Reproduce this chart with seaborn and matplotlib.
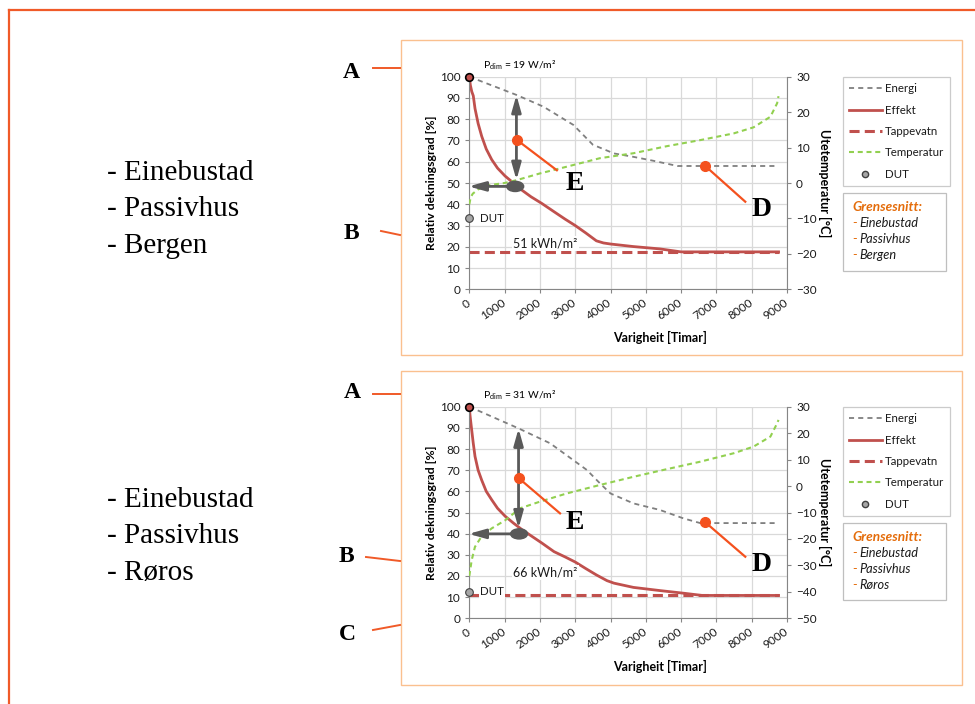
import matplotlib
matplotlib.use('Agg')
import matplotlib.pyplot as plt
import pandas as pd
import seaborn as sns
from matplotlib.lines import Line2D
from matplotlib.patches import Ellipse, Rectangle


# Øvre diagram: Einebustad / Passivhus / Bergen
BERGEN_ENERGI_T = [0, 1340, 2100, 2950, 3500, 4100, 4650, 5200, 5900, 8760]
BERGEN_ENERGI = [100, 91.4, 85.9, 77.3, 68, 63.9, 62.3, 60.5, 58, 58]
BERGEN_EFFEKT_T = [0, 30, 70, 113, 162, 250, 351, 480, 635, 800, 1012, 1250, 1485,
                   1750, 2053, 2400, 2714, 3000, 3300, 3600, 3800, 4000, 4650, 5400,
                   6000, 8760]
BERGEN_EFFEKT = [100, 96, 93, 91, 85, 78, 72, 66, 61, 57, 53.3, 50, 46.7,
                 43.5, 40.4, 36.5, 33, 30, 26.5, 22.8, 21.8, 21.3, 20.1, 19,
                 17.6, 17.6]
BERGEN_TAPPEVATN = [17.6, 17.6]
BERGEN_TEMP_T = [0, 40, 100, 250, 500, 1000, 1340, 2000, 2760, 3700, 4650,
                 5600, 6540, 7490, 8050, 8530, 8720, 8760]
BERGEN_TEMP = [-6, -4, -3, -1.8, -0.7, 0, 0.8, 2.7, 4.6, 7, 8.4,
               10.4, 12.1, 14, 15.7, 18.7, 22.5, 24.5]
BERGEN_DUT = -10
BERGEN_PDIM = 19
BERGEN_KWH = 51

# Nedre diagram: Einebustad / Passivhus / Røros
ROROS_ENERGI_T = [0, 1390, 2290, 3330, 3700, 4000, 4650, 5400, 6070, 6540, 8760]
ROROS_ENERGI = [100, 89.8, 82.7, 70.1, 63.8, 59, 54.3, 51.2, 47.2, 45, 45]
ROROS_EFFEKT_T = [0, 20, 40, 68, 110, 162, 250, 351, 480, 635, 800, 1012, 1250,
                  1485, 1750, 2053, 2400, 2714, 3000, 3300, 3600, 3900, 4100, 4650,
                  5400, 6100, 6600, 8760]
ROROS_EFFEKT = [100, 96, 93, 89, 83, 76.5, 70, 65.3, 60, 56, 52, 48.3, 45,
                42, 39, 35.6, 31.5, 29, 26.6, 23.5, 20.5, 17.8, 16.6, 14.6,
                13.1, 11.8, 10.8, 10.8]
ROROS_TAPPEVATN = [10.8, 10.8]
ROROS_TEMP_T = [0, 68, 160, 350, 635, 1010, 1440, 2000, 2760, 3700, 4650,
                5600, 6540, 7490, 8050, 8530, 8720, 8760]
ROROS_TEMP = [-34, -28, -23, -19, -16, -13, -8.4, -5.9, -2.8, 0.4, 3.5,
              6.4, 9.2, 12.4, 14.9, 18.7, 23.7, 25]
ROROS_DUT = -40
ROROS_PDIM = 31
ROROS_KWH = 66

TAPPEVATN_T = [0, 8760]
LEGEND_LABELS = ['Energi', 'Effekt', 'Tappevatn', 'Temperatur', 'DUT']
GRENSESNITT = [['Einebustad', 'Passivhus', 'Bergen'],
               ['Einebustad', 'Passivhus', 'Røros']]

# markeringar (timar, %)
BERGEN_MARK = dict(ellipse=(1300, 48.4), arrow_x=1335, arrow_top=91.4, arrow_bot=51.4,
                   e_dot=(1345, 70.3), e_end=(2480, 56.0), e_txt=(2980, 49.8),
                   d_dot=(6684, 58.0), d_end=(7818, 41.2), d_txt=(8280, 37.5),
                   dut_txt=(300, 33.4), kwh_txt=(2146, 21.6))
ROROS_MARK = dict(ellipse=(1410, 39.9), arrow_x=1395, arrow_top=89.7, arrow_bot=42.5,
                  e_dot=(1410, 66.1), e_end=(2570, 49.6), e_txt=(2997, 45.2),
                  d_dot=(6684, 45.4), d_end=(7818, 29.1), d_txt=(8272, 25.2),
                  dut_txt=(300, 12.6), kwh_txt=(2146, 21.5))

W, H = 975, 704
RED = '#c0504d'
GREY = '#7f7f7f'
GREEN = '#92d050'
ORANGE = '#f4511e'
FRAME = '#f05a28'
PEACH = '#fac08f'
DARK = '#595959'
SANS = ['Lato', 'DejaVu Sans']
SERIF = ['Liberation Serif', 'DejaVu Serif']

plt.rcParams['font.family'] = SANS
plt.rcParams['mathtext.fontset'] = 'custom'
plt.rcParams['mathtext.rm'] = 'Lato'

STYLE = {
    'energi': dict(color=GREY, lw=1.3, linestyle=(0, (2.8, 2.3))),
    'effekt': dict(color=RED, lw=2.0),
    'tappevatn': dict(color=RED, lw=2.2, linestyle=(0, (3.3, 1.7))),
    'temp': dict(color=GREEN, lw=1.5, linestyle=(0, (2.4, 1.8))),
}


def fx(x):
    return x / W


def fy(y):
    return 1 - y / H


def draw_chart(fig, top, bottom, temp_min, s, mark):
    ax = fig.add_axes([fx(469.3), fy(bottom), (787 - 469.3) / W, (bottom - top) / H])
    energi = pd.DataFrame({'t': s['energi_t'], 'v': s['energi']})
    effekt = pd.DataFrame({'t': s['effekt_t'], 'v': s['effekt']})
    tapp = pd.DataFrame({'t': TAPPEVATN_T, 'v': s['tappevatn']})
    temp = pd.DataFrame({'t': s['temp_t'], 'v': s['temp']})

    sns.lineplot(data=energi, x='t', y='v', ax=ax, estimator=None, sort=False, **STYLE['energi'])
    sns.lineplot(data=tapp, x='t', y='v', ax=ax, estimator=None, sort=False, **STYLE['tappevatn'])
    sns.lineplot(data=effekt, x='t', y='v', ax=ax, estimator=None, sort=False, **STYLE['effekt'])

    ax.set_xlim(0, 9000)
    ax.set_ylim(0, 100)
    ax.set_xticks(range(0, 9001, 1000))
    ax.set_yticks(range(0, 101, 10))
    ax.grid(True, color='#d9d9d9', lw=0.9)
    ax.set_axisbelow(True)
    for side in ['top', 'right']:
        ax.spines[side].set_visible(False)
    for side in ['left', 'bottom']:
        ax.spines[side].set_color('#868686')
    ax.tick_params(labelsize=8.5, length=3, color='#868686', labelcolor='#1a1a1a')
    plt.setp(ax.get_xticklabels(), rotation=35, ha='right', va='center',
             rotation_mode='anchor')
    ax.tick_params(axis='x', pad=6)
    ax.set_xlabel('')
    ax.set_ylabel('Relativ dekningsgrad [%]', fontsize=8.8, fontweight='bold', labelpad=2)
    ax.text(0.6, -0.226, 'Varigheit [Timar]', transform=ax.transAxes, ha='center',
            va='center', fontsize=9, fontweight='bold')
    ax.text(0.043, 1.055, r'P$_{\mathrm{dim}}$ = %d W/m²' % s['pdim'], transform=ax.transAxes,
            ha='left', va='center', fontsize=7.5)

    ax2 = ax.twinx()
    sns.lineplot(data=temp, x='t', y='v', ax=ax2, estimator=None, sort=False, **STYLE['temp'])
    ax2.set_ylim(temp_min, 30)
    ax2.set_yticks(range(temp_min, 31, 10))
    for side in ['top', 'left', 'bottom']:
        ax2.spines[side].set_visible(False)
    ax2.spines['right'].set_color('#868686')
    ax2.tick_params(labelsize=8.5, length=3, color='#868686', labelcolor='#1a1a1a')
    ax2.set_xlabel('')
    ax2.set_ylabel('')
    ax2.text(1.119, 0.5, 'Utetemperatur [°C]', transform=ax2.transAxes, rotation=-90,
             ha='center', va='center', fontsize=9, fontweight='bold')

    tr = ax.transData
    # startpunkt effekt og DUT
    ax2.plot([0], [100], transform=tr, marker='o', ms=5.5, mfc=RED, mec='black',
             mew=1.2, clip_on=False)
    ax2.plot([0], [s['dut']], marker='o', ms=5.5, mfc='#a6a6a6', mec='#404040',
             mew=0.8, clip_on=False)
    ax2.text(*mark['dut_txt'], 'DUT', transform=tr, ha='left', va='center', fontsize=8.3,
             color='#1a1a1a', bbox=dict(fc='white', ec='none', pad=1))
    ax2.text(*mark['kwh_txt'], '%d kWh/m²' % s['kwh'], transform=tr, ha='center',
             va='center', fontsize=9, color='#1a1a1a', bbox=dict(fc='white', ec='none', pad=1))

    # piler
    arrow = dict(arrowstyle='<|-|>,head_length=1.0,head_width=0.28', color=DARK, lw=2,
                 shrinkA=0, shrinkB=0)
    ax2.annotate('', xy=(mark['arrow_x'], mark['arrow_top']),
                 xytext=(mark['arrow_x'], mark['arrow_bot']),
                 xycoords=tr, textcoords=tr, arrowprops=arrow, annotation_clip=False)
    arrow1 = dict(arrow, arrowstyle='-|>,head_length=1.0,head_width=0.28')
    ey = mark['ellipse'][1]
    ax2.annotate('', xy=(-20, ey), xytext=mark['ellipse'], xycoords=tr, textcoords=tr,
                 arrowprops=arrow1, annotation_clip=False)
    ax2.add_patch(Ellipse(mark['ellipse'], 480, 4.8, transform=tr, color=DARK, zorder=5))

    # E og D
    for dot, end, txt, letter in [(mark['e_dot'], mark['e_end'], mark['e_txt'], 'E'),
                                  (mark['d_dot'], mark['d_end'], mark['d_txt'], 'D')]:
        ax2.plot([dot[0], end[0]], [dot[1], end[1]], transform=tr, color=ORANGE, lw=1.6,
                 marker='o', ms=7, markevery=[0], zorder=6)
        ax2.text(*txt, letter, transform=tr, ha='center', va='center', fontsize=20,
                 fontweight='bold', family=SERIF, color='black')
    return ax


def draw_legend(fig, top, gtop, gbot, places):
    handles = [Line2D([], [], **STYLE['energi']),
               Line2D([], [], **STYLE['effekt']),
               Line2D([], [], **STYLE['tappevatn']),
               Line2D([], [], **STYLE['temp']),
               Line2D([], [], ls='none', marker='o', ms=4.5, mfc='#a6a6a6', mec='#404040')]
    leg = fig.legend(handles, LEGEND_LABELS, loc='upper left',
                     bbox_to_anchor=(fx(843), fy(top)), borderaxespad=0, frameon=True,
                     fancybox=False, edgecolor='#bfbfbf', fontsize=8.3, handlelength=2.8,
                     handletextpad=0.25, labelspacing=0.9, borderpad=0.55)
    leg.get_frame().set_linewidth(0.9)
    for t in leg.get_texts():
        t.set_color('#1a1a1a')

    fig.add_artist(Rectangle((fx(843), fy(gbot)), fx(946) - fx(843), fy(gtop) - fy(gbot),
                             transform=fig.transFigure, fill=False, ec='#bfbfbf', lw=0.9))
    fig.text(fx(852), fy(gtop + 14), 'Grensesnitt:', ha='left', va='center', fontsize=9.8,
             fontweight='bold', style='italic', color='#e46c0a')
    for i, p in enumerate(places):
        y = fy(gtop + 30 + 15.8 * i)
        fig.text(fx(852), y, '-', ha='left', va='center', fontsize=9, color='#e46c0a')
        fig.text(fx(859), y, p, ha='left', va='center', fontsize=9.2, style='italic',
                 color='#1a1a1a')


fig = plt.figure(figsize=(W / 100, H / 100), dpi=100)

# ytre ramme
fig.add_artist(Line2D([fx(9), fx(9)], [fy(10), 0], transform=fig.transFigure,
                      color=FRAME, lw=1.6))
fig.add_artist(Line2D([fx(9), 1], [fy(10), fy(10)], transform=fig.transFigure,
                      color=FRAME, lw=1.6))
# diagramrammer
for top, bot in [(40, 355), (371, 685)]:
    fig.add_artist(Rectangle((fx(401), fy(bot)), fx(962) - fx(401), fy(top) - fy(bot),
                             transform=fig.transFigure, fill=False, ec=PEACH, lw=1.0))

bergen = dict(energi_t=BERGEN_ENERGI_T, energi=BERGEN_ENERGI, effekt_t=BERGEN_EFFEKT_T,
              effekt=BERGEN_EFFEKT, tappevatn=BERGEN_TAPPEVATN, temp_t=BERGEN_TEMP_T,
              temp=BERGEN_TEMP, dut=BERGEN_DUT, pdim=BERGEN_PDIM, kwh=BERGEN_KWH)
roros = dict(energi_t=ROROS_ENERGI_T, energi=ROROS_ENERGI, effekt_t=ROROS_EFFEKT_T,
             effekt=ROROS_EFFEKT, tappevatn=ROROS_TAPPEVATN, temp_t=ROROS_TEMP_T,
             temp=ROROS_TEMP, dut=ROROS_DUT, pdim=ROROS_PDIM, kwh=ROROS_KWH)

draw_chart(fig, 76.7, 289.3, -30, bergen, BERGEN_MARK)
draw_chart(fig, 406.7, 618.3, -50, roros, ROROS_MARK)
draw_legend(fig, 77, 193, 271, GRENSESNITT[0])
draw_legend(fig, 407, 523, 600, GRENSESNITT[1])

# tekst til venstre
for base, places in [(180, GRENSESNITT[0]), (507, GRENSESNITT[1])]:
    for i, p in enumerate(places):
        fig.text(fx(107), fy(base + 36.3 * i), '- ' + p, ha='left', va='baseline',
                 fontsize=21, family=SERIF, color='black')

# bokstavar A, B, C med strekar
letters = [('A', (351, 72), [(373, 68), (400, 68)]),
           ('B', (351, 233), [(381, 231), (400, 235)]),
           ('A', (352, 393), [(373, 394), (400, 394)]),
           ('B', (346, 556), [(366, 557), (400, 561)]),
           ('C', (347, 634), [(373, 630), (400, 625)])]
for letter, (lx, ly), line in letters:
    fig.text(fx(lx), fy(ly), letter, ha='center', va='center', fontsize=17,
             fontweight='bold', family=SERIF, color='black')
    fig.add_artist(Line2D([fx(p[0]) for p in line], [fy(p[1]) for p in line],
                          transform=fig.transFigure, color=FRAME, lw=1.4))

fig.savefig('out.png', dpi=100)
